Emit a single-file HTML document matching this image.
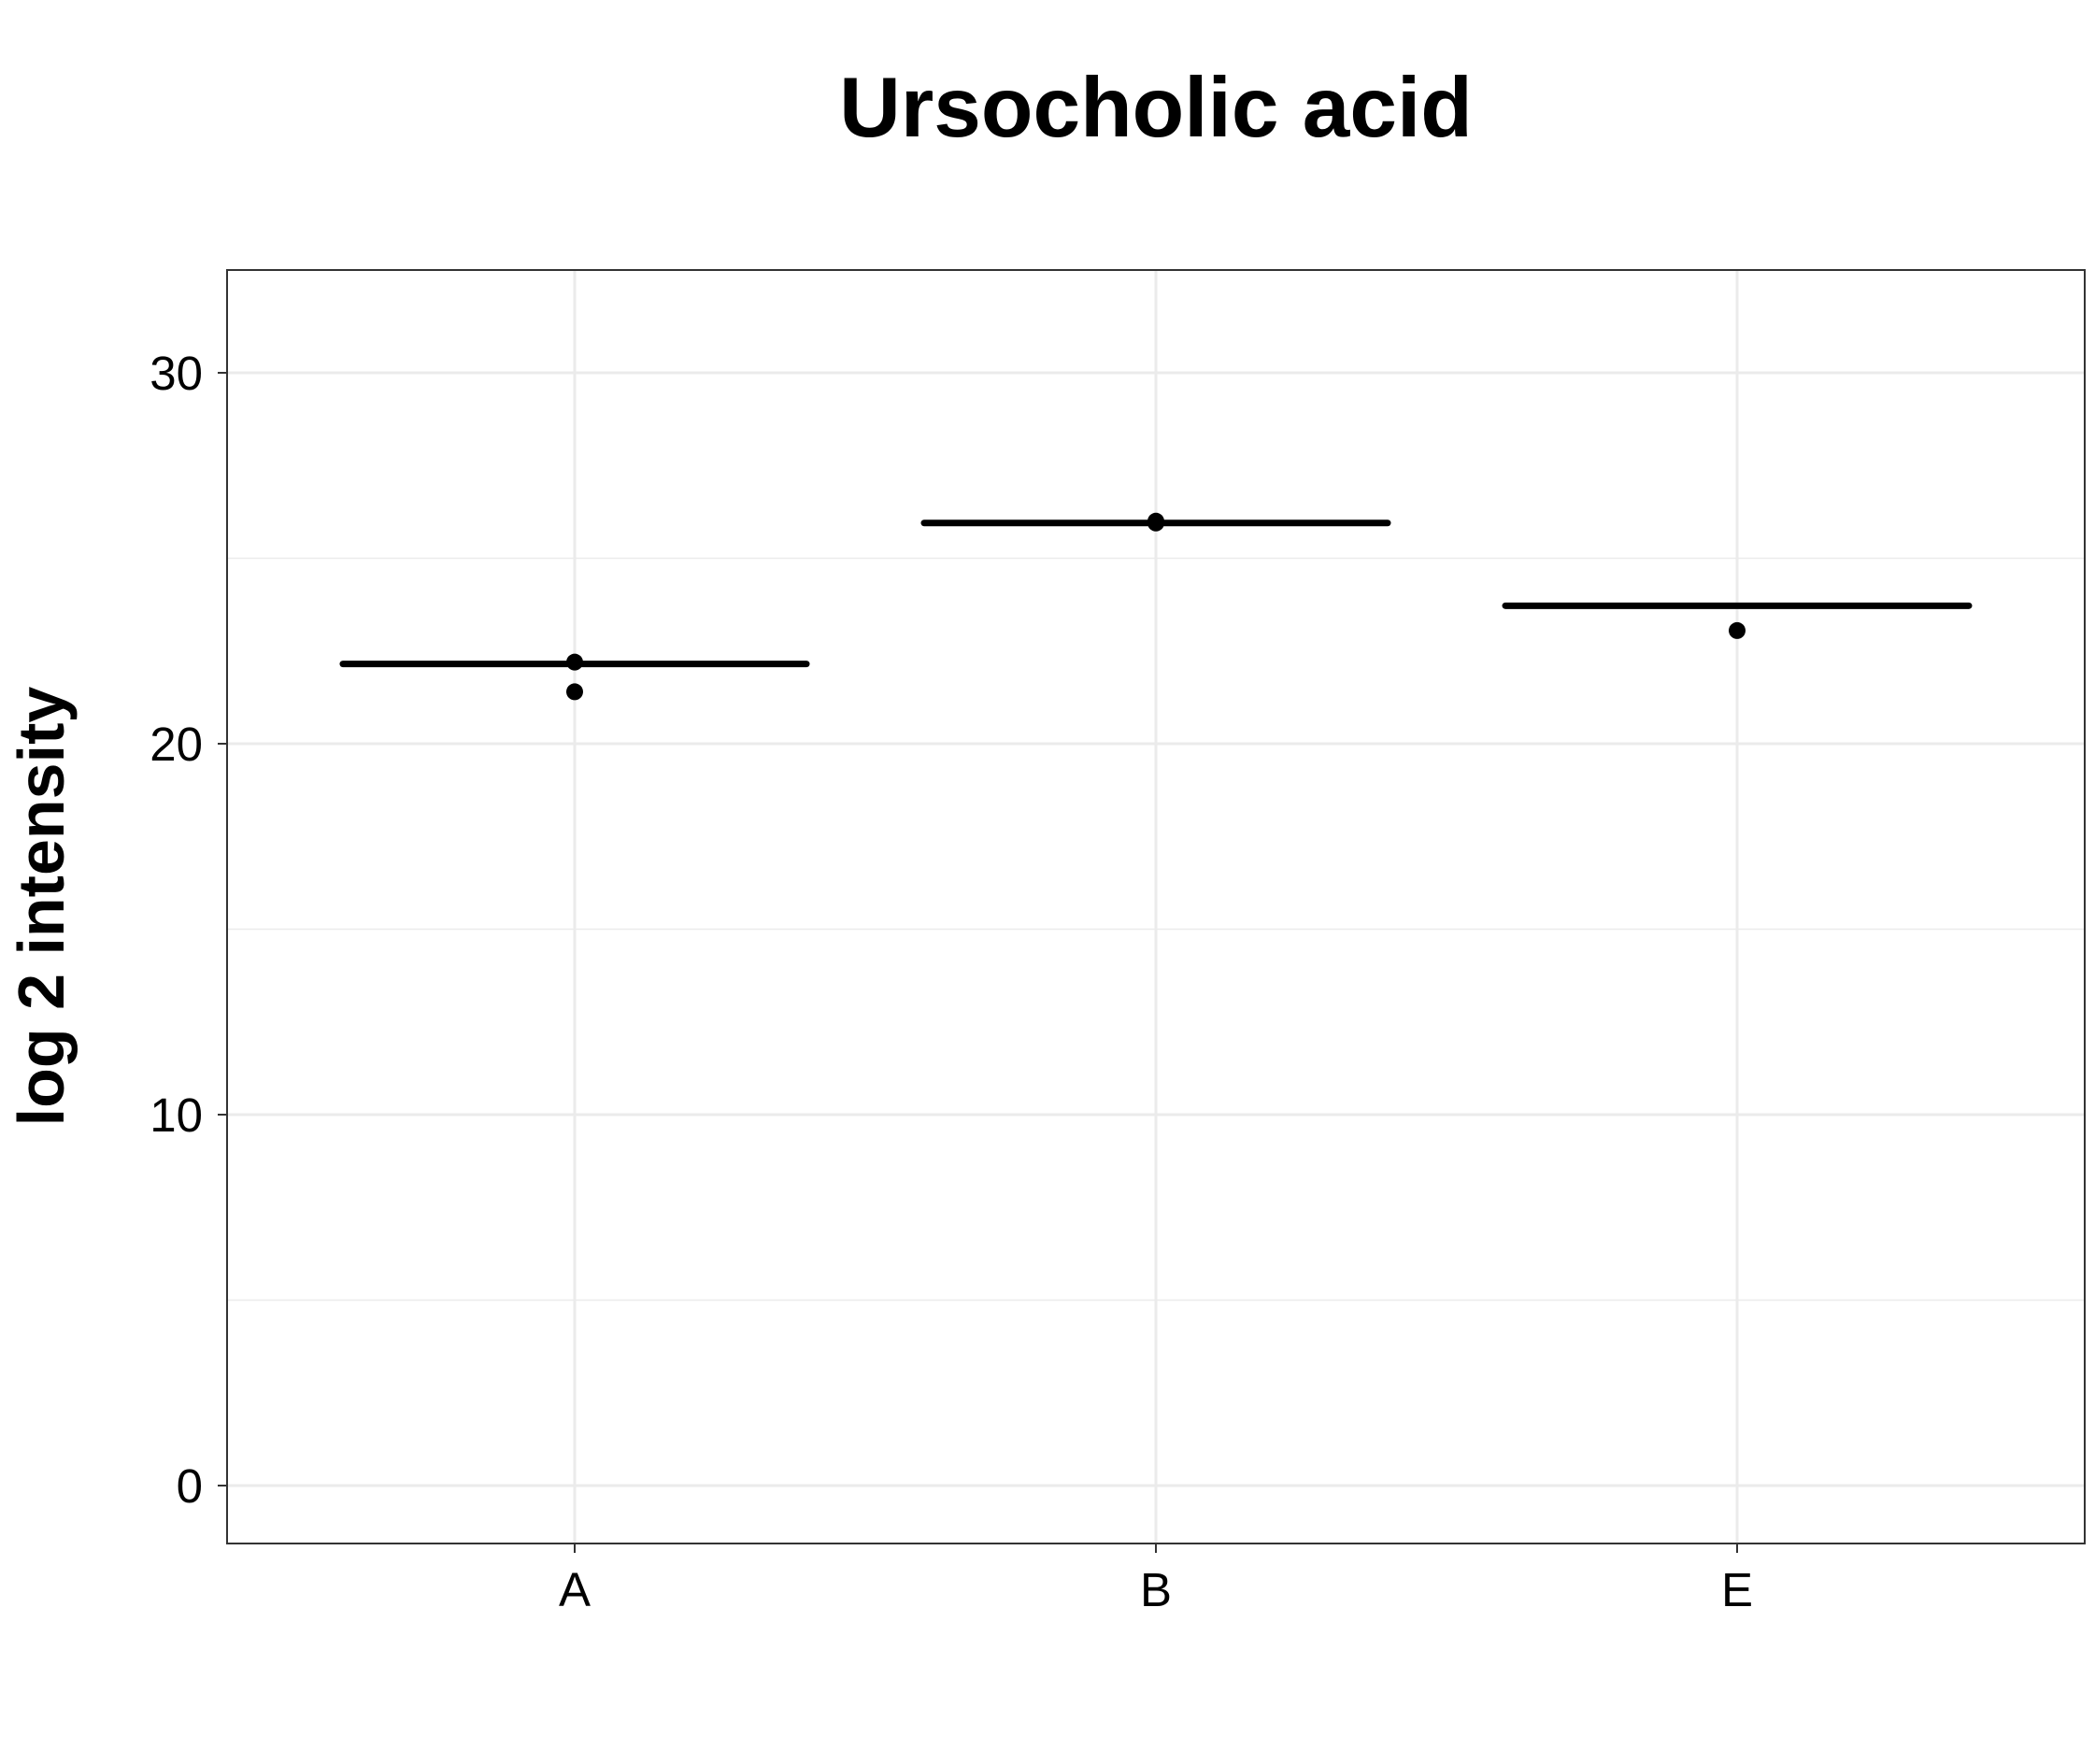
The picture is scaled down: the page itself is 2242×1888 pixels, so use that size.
<!DOCTYPE html>
<html><head><meta charset="utf-8"><style>body{margin:0;background:#fff}svg{display:block;font-family:"Liberation Sans",Arial,sans-serif}</style></head>
<body>
<svg id="chart" width="2242" height="1888" viewBox="0 0 2242 1888">
<rect width="2242" height="1888" fill="#fff"/>
<text x="1237" y="146" text-anchor="middle" font-size="91" font-weight="bold">Ursocholic acid</text>
<text transform="translate(68,970) rotate(-90)" text-anchor="middle" font-size="70" font-weight="bold">log 2 intensity</text>
<g id="grid"></g><g id="marks"></g><g id="axes"></g>
</svg>
<script>
const categories = ["A","B","E"];
const meanValues = [22.15, 25.95, 23.72];
const pointCats = ["A","A","B","B","E"];
const pointValues = [22.2, 21.4, 26.0, 25.95, 23.05];
const yTicks = [0,10,20,30];
const yMinor = [5,15,25];
const NS="http://www.w3.org/2000/svg";
const L=243,R=2231,T=289,B=1652;
function y(v){return 1590+(399-1590)*(v/30);}
function x(c){return 615+categories.indexOf(c)*622;}
function mk(t,a,p){const e=document.createElementNS(NS,t);for(const k in a)e.setAttribute(k,a[k]);document.getElementById(p).appendChild(e);return e;}
let e=mk('rect',{x:L,y:T,width:R-L,height:B-T,fill:'#fff'},'grid');


yMinor.forEach(v=>{const l=mk('line',{x1:L,x2:R,y1:y(v),y2:y(v),stroke:'#ebebeb','stroke-width':1.5},'grid');

});
yTicks.forEach(v=>{const l=mk('line',{x1:L,x2:R,y1:y(v),y2:y(v),stroke:'#ebebeb','stroke-width':3},'grid');


const t=mk('line',{x1:L-10,x2:L,y1:y(v),y2:y(v),stroke:'#333','stroke-width':2},'axes');


const s=mk('text',{x:L-26,y:y(v)+18,'text-anchor':'end','font-size':51,fill:'#000'},'axes');s.textContent=v;

});
categories.forEach((c,i)=>{const l=mk('line',{x1:x(c),x2:x(c),y1:T,y2:B,stroke:'#ebebeb','stroke-width':3},'grid');


const t=mk('line',{x1:x(c),x2:x(c),y1:B,y2:B+10,stroke:'#333','stroke-width':2},'axes');


const s=mk('text',{x:x(c),y:1719,'text-anchor':'middle','font-size':51},'axes');s.textContent=c;


const m=mk('line',{x1:x(c)-248,x2:x(c)+248,y1:y(meanValues[i]),y2:y(meanValues[i]),stroke:'#000','stroke-width':7,'stroke-linecap':'round'},'marks');

});
pointValues.forEach((v,i)=>{const p=mk('circle',{cx:x(pointCats[i]),cy:y(v),r:9,fill:'#000'},'marks');

});
e=mk('rect',{x:L,y:T,width:R-L,height:B-T,fill:'none',stroke:'#333','stroke-width':2},'axes');


</script>
</body></html>
